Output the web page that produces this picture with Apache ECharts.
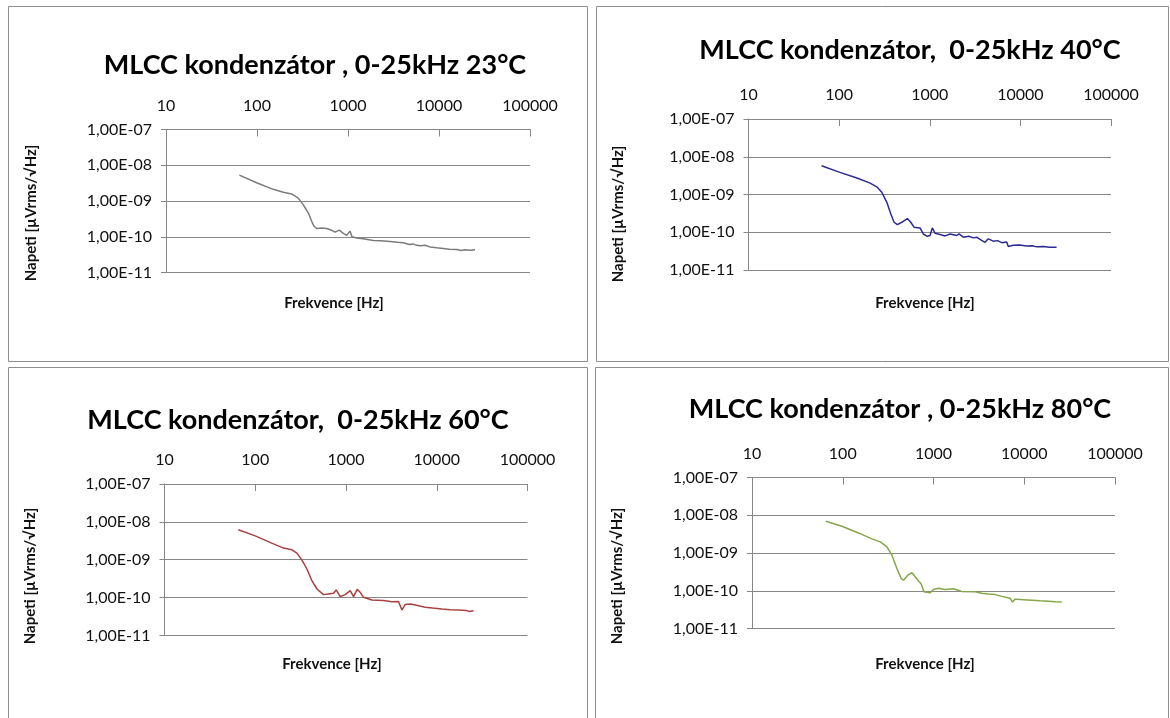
<!DOCTYPE html>
<html>
<head>
<meta charset="utf-8">
<script src="https://cdn.jsdelivr.net/npm/echarts@6/dist/echarts.min.js"></script>
<style>
  html, body { margin: 0; padding: 0; background: #ffffff; }
  #chart { width: 1170px; height: 718px; }
</style>
</head>
<body>
<div id="chart"></div>
<script>
// Noise spectral density of an MLCC capacitor at four temperatures (0-25 kHz)

const titles = [
  'MLCC kondenzátor , 0-25kHz 23°C',
  'MLCC kondenzátor,  0-25kHz 40°C',
  'MLCC kondenzátor,  0-25kHz 60°C',
  'MLCC kondenzátor , 0-25kHz 80°C'
];
const xAxisName = 'Frekvence [Hz]';
const yAxisName = 'Napeti [µVrms/√Hz]';
const xTicks = [10, 100, 1000, 10000, 100000];
const yTicks = [1e-11, 1e-10, 1e-9, 1e-8, 1e-7];

// 23 °C
const freq23 = [64, 99, 151, 195, 240, 284, 323, 367, 399, 423, 453, 514, 583, 650, 720, 803, 889, 968, 1052, 1107,
  1245, 1472, 1897, 2300, 2894, 3500, 4058, 4700, 5200, 5690, 6300, 7000, 7943, 9500, 11140, 13000, 15660, 17500, 19000, 22000, 24900];
const volt23 = [5.3e-9, 3.25e-9, 2.12e-9, 1.75e-9, 1.58e-9, 1.2e-9, 7.8e-10, 4.6e-10, 2.7e-10, 1.97e-10, 1.7e-10, 1.77e-10, 1.7e-10, 1.55e-10, 1.35e-10, 1.53e-10, 1.24e-10, 1.09e-10, 1.44e-10, 1.0e-10,
  9.2e-11, 8.8e-11, 7.9e-11, 7.7e-11, 7.4e-11, 7.0e-11, 6.8e-11, 6.1e-11, 6.3e-11, 5.75e-11, 5.6e-11, 5.8e-11, 5.2e-11, 4.9e-11, 4.7e-11, 4.5e-11, 4.4e-11, 4.1e-11, 4.3e-11, 4.2e-11, 4.3e-11];

// 40 °C
const freq40 = [64, 102, 157, 220, 260, 296, 336, 372, 404, 439, 504, 566, 617, 671, 781, 849, 941, 1007, 1068, 1143,
  1299, 1475, 1674, 1983, 2100, 2349, 2700, 3027, 3300, 3586, 4074, 4427, 5026, 5600, 6220, 7063, 7360, 8358, 9800, 11740, 13500, 15140, 18000, 21000, 25100];
const volt40 = [5.8e-9, 3.85e-9, 2.73e-9, 2.0e-9, 1.6e-9, 1.14e-9, 6.2e-10, 3.05e-10, 1.84e-10, 1.6e-10, 1.9e-10, 2.3e-10, 1.84e-10, 1.36e-10, 1.3e-10, 9.0e-11, 7.8e-11, 8.2e-11, 1.3e-10, 9.4e-11,
  8.7e-11, 8.0e-11, 9.0e-11, 8.2e-11, 9.0e-11, 7.4e-11, 7.8e-11, 7.1e-11, 7.4e-11, 6.5e-11, 5.4e-11, 6.7e-11, 5.8e-11, 6.0e-11, 5.3e-11, 5.5e-11, 4.2e-11, 4.5e-11, 4.6e-11, 4.35e-11, 4.4e-11, 4.1e-11, 4.2e-11, 4.0e-11, 4.0e-11];

// 60 °C
const freq60 = [65, 100, 152, 205, 253, 288, 327, 371, 421, 478, 565, 641, 728, 780, 863, 980, 1112, 1211, 1328, 1433,
  1560, 1929, 2590, 3204, 3793, 4130, 4490, 5100, 5790, 6500, 7460, 9000, 11400, 14000, 17400, 21000, 23000, 25400];
const volt60 = [6.2e-9, 4.28e-9, 2.75e-9, 2.03e-9, 1.83e-9, 1.5e-9, 9.8e-10, 5.7e-10, 2.8e-10, 1.69e-10, 1.2e-10, 1.25e-10, 1.3e-10, 1.6e-10, 1.06e-10, 1.2e-10, 1.53e-10, 1.06e-10, 1.65e-10, 1.38e-10,
  1.02e-10, 8.7e-11, 8.4e-11, 7.8e-11, 7.9e-11, 4.7e-11, 6.6e-11, 6.8e-11, 6.4e-11, 6.0e-11, 5.6e-11, 5.3e-11, 5.0e-11, 4.8e-11, 4.7e-11, 4.6e-11, 4.3e-11, 4.5e-11];

// 80 °C
const freq80 = [65, 98, 149, 210, 259, 307, 348, 395, 441, 468, 522, 578, 628, 696, 732, 784, 920, 1000, 1135, 1345,
  1661, 2055, 2879, 3400, 4036, 4800, 5662, 6998, 7420, 7943, 9800, 12130, 15000, 18500, 22000, 25900];
const volt80 = [6.9e-9, 5.1e-9, 3.4e-9, 2.37e-9, 1.97e-9, 1.46e-9, 8.8e-10, 3.9e-10, 2.1e-10, 1.9e-10, 2.6e-10, 3.0e-10, 2.34e-10, 1.73e-10, 1.5e-10, 9.4e-11, 8.9e-11, 1.08e-10, 1.17e-10, 1.08e-10,
  1.13e-10, 9.6e-11, 9.4e-11, 8.6e-11, 8.2e-11, 7.9e-11, 7.1e-11, 6.3e-11, 5.0e-11, 6.0e-11, 5.8e-11, 5.6e-11, 5.4e-11, 5.25e-11, 5.1e-11, 5.0e-11];

const seriesFreq = [freq23, freq40, freq60, freq80];
const seriesVolt = [volt23, volt40, volt60, volt80];
const seriesColors = ['#7b7b7b', '#2b2b92', '#a84141', '#86a64a'];

// panel frames and plot rectangles (pixels)
const frames = [
  { x: 8, y: 6, w: 579, h: 355 },
  { x: 596, y: 6, w: 572, h: 355 },
  { x: 8, y: 367, w: 579, h: 360 },
  { x: 595, y: 367, w: 573, h: 360 }
];
const plots = [
  { left: 166, top: 129.5, width: 364, height: 143 },
  { left: 748.5, top: 119, width: 362.5, height: 151 },
  { left: 164.5, top: 484, width: 363, height: 151.5 },
  { left: 752, top: 477.5, width: 363, height: 151 }
];
const titlePos = [[315, 65], [910, 50], [298, 420], [900, 409]];
const xNamePos = [[334, 303], [925, 303], [332, 664], [925, 664]];
const yNamePos = [[31, 213], [618, 214], [30, 576], [617, 576]];

const FONT = 'Lato, "Open Sans", sans-serif';
const GRID_GRAY = '#878787';

function sciLabel(v) {
  const e = Math.round(Math.log10(v));
  const s = e < 0 ? '-' : '+';
  const a = Math.abs(e);
  return '1,00E' + s + (a < 10 ? '0' + a : a);
}

const grid = [], xAxis = [], yAxis = [], series = [], graphic = [];

for (let i = 0; i < 4; i++) {
  const p = plots[i];
  grid.push({ left: p.left, top: p.top, width: p.width, height: p.height, containLabel: false });

  xAxis.push({
    type: 'log', logBase: 10, gridIndex: i, position: 'top',
    min: xTicks[0], max: xTicks[xTicks.length - 1],
    axisLine: { show: true, onZero: false, lineStyle: { color: GRID_GRAY, width: 1 } },
    axisTick: { show: true, inside: true, length: 7, lineStyle: { color: GRID_GRAY } },
    axisLabel: { show: true, margin: 16, color: '#111', fontFamily: FONT, fontSize: 16,
      formatter: v => String(Math.round(v)) },
    splitLine: { show: false },
    minorTick: { show: false }
  });

  yAxis.push({
    type: 'log', logBase: 10, gridIndex: i,
    min: yTicks[0], max: yTicks[yTicks.length - 1],
    axisLine: { show: true, onZero: false, lineStyle: { color: GRID_GRAY, width: 1 } },
    axisTick: { show: true, inside: false, length: 5, lineStyle: { color: GRID_GRAY } },
    axisLabel: { show: true, margin: 14, color: '#111', fontFamily: FONT, fontSize: 16,
      formatter: sciLabel },
    splitLine: { show: true, lineStyle: { color: GRID_GRAY, width: 1 } }
  });

  series.push({
    type: 'line', xAxisIndex: i, yAxisIndex: i,
    data: seriesFreq[i].map((f, k) => [f, seriesVolt[i][k]]),
    showSymbol: false, symbol: 'none', smooth: false,
    lineStyle: { color: seriesColors[i], width: 1.5 },
    itemStyle: { color: seriesColors[i] },
    animation: false, silent: true
  });

  const fr = frames[i];
  graphic.push({
    type: 'rect', silent: true, z: -1,
    shape: { x: fr.x + 0.5, y: fr.y + 0.5, width: fr.w, height: fr.h },
    style: { fill: '#ffffff', stroke: '#8e8e8e', lineWidth: 1 }
  });
  graphic.push({
    type: 'text', silent: true,
    x: titlePos[i][0], y: titlePos[i][1],
    style: { text: titles[i], fill: '#000', font: 'bold 27px ' + FONT,
      textAlign: 'center', textVerticalAlign: 'middle' }
  });
  graphic.push({
    type: 'text', silent: true,
    x: xNamePos[i][0], y: xNamePos[i][1],
    style: { text: xAxisName, fill: '#111', font: 'bold 15px ' + FONT,
      textAlign: 'center', textVerticalAlign: 'middle' }
  });
  graphic.push({
    type: 'text', silent: true,
    x: yNamePos[i][0], y: yNamePos[i][1], rotation: Math.PI / 2,
    style: { text: yAxisName, fill: '#111', font: 'bold 15px ' + FONT,
      textAlign: 'center', textVerticalAlign: 'middle' }
  });
}

const chart = echarts.init(document.getElementById('chart'), null, { renderer: 'canvas' });
chart.setOption({
  backgroundColor: '#ffffff',
  animation: false,
  grid, xAxis, yAxis, series, graphic
});
</script>
</body>
</html>
